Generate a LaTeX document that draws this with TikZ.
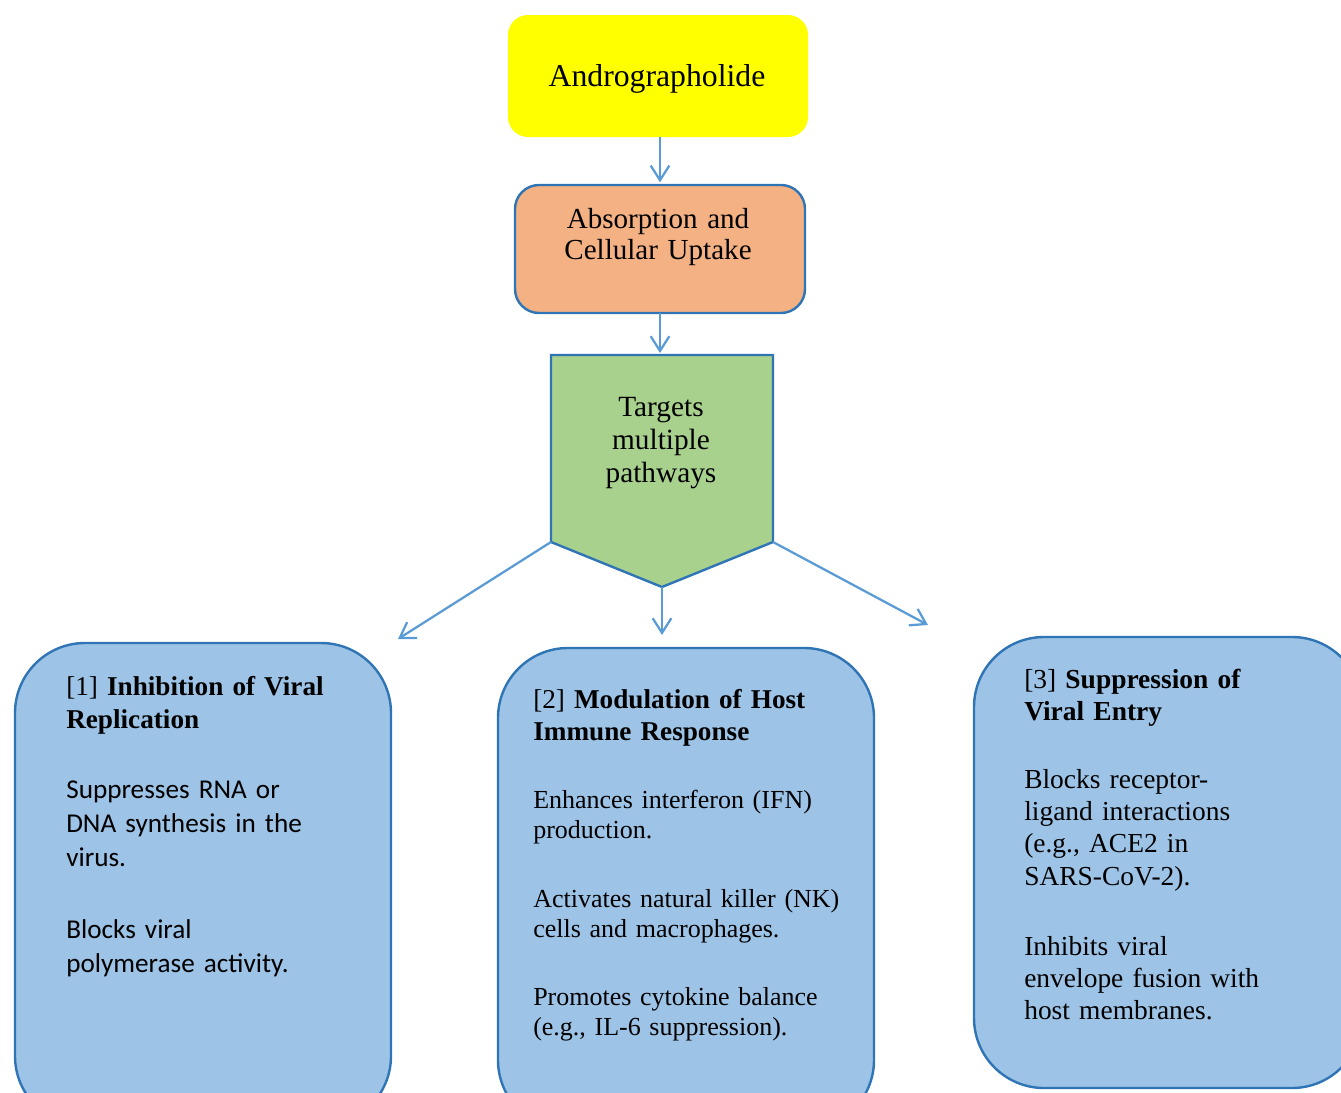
\documentclass[tikz,border=0pt]{standalone}
\usepackage{fontspec}
\setmainfont{Liberation Serif}
\newfontfamily\carlito{Carlito}
\usetikzlibrary{arrows.meta}
\definecolor{yel}{HTML}{FFFF00}
\definecolor{orng}{HTML}{F4B183}
\definecolor{grn}{HTML}{A9D18E}
\definecolor{bluefill}{HTML}{9DC3E6}
\definecolor{blueedge}{HTML}{2F75B5}
\definecolor{arrowblue}{HTML}{5B9BD5}
\tikzset{
  arr/.style={draw=arrowblue, line width=1.7pt, -{Straight Barb[length=11pt,width=14pt,line width=1.7pt]}},
  boxbase/.style={anchor=north west, outer sep=0pt, inner sep=0pt, line width=1.8pt},
  bigbox/.style={boxbase, draw=blueedge, fill=bluefill, rounded corners=52.5pt, minimum width=282pt},
  txt/.style={inner sep=0pt, text width=300pt, align=left, anchor=base west},
  ctxt/.style={inner sep=0pt, text width=220pt, align=center, anchor=base},
}
\begin{document}
\begin{tikzpicture}[x=0.75pt,y=-0.75pt]
\useasboundingbox (0,0) rectangle (1341,1092);
\clip (0,0) rectangle (1341,1092);
% top boxes
\node[boxbase, fill=yel, rounded corners=15pt, minimum width=225pt, minimum height=91.5pt] (yelbox) at (508,15) {};
\node[boxbase, draw=blueedge, fill=orng, rounded corners=18pt, minimum width=217.5pt, minimum height=96pt] (orgbox) at (515,185) {};
% pentagon
\coordinate (pTL) at (551,355);
\coordinate (pTR) at (773,355);
\coordinate (pR) at (773,542);
\coordinate (pB) at (662,587);
\coordinate (pL) at (551,542);
\coordinate (pTop) at (660,355);
\draw[blueedge, fill=grn, line width=1.8pt, line join=miter] (pTL) -- (pTR) -- (pR) -- (pB) -- (pL) -- cycle;
% bottom boxes
\node[bigbox, minimum height=362.25pt] (box1) at (15,643) {};
\node[bigbox, minimum height=361.5pt] (box2) at (498,648) {};
\node[bigbox, minimum width=291pt, minimum height=338.25pt] (box3) at (974,637) {};
% arrows
\coordinate (aL) at (398,639);
\coordinate (aM) at (662,635);
\coordinate (aR) at (928,625);
\draw[arr, shorten >=2pt] (yelbox.south -| orgbox.north) -- (orgbox.north);
\draw[arr, shorten >=1.5pt] (orgbox.south) -- (pTop);
\draw[arr] (pL) -- (aL);
\draw[arr] (pB) -- (aM);
\draw[arr] (pR) -- (aR);
% top texts
\node[ctxt, font=\fontsize{23.8}{28}\selectfont] (tAndro) at (657,86) {Andrographolide};
\node[ctxt, font=\fontsize{21.8}{23.25}\selectfont] (tAbs) at (658,228) {Absorption and\\Cellular Uptake};
\node[ctxt, font=\fontsize{22}{24.75}\selectfont] (tTgt) at (661,416) {Targets\\multiple\\pathways};
% box 1
\node[txt, font=\fontsize{20.4}{24.75}\selectfont] (h1) at (66,695) {[1] \textbf{Inhibition of Viral}\\\textbf{Replication}};
\node[txt, font=\carlito\fontsize{20.4}{25.5}\selectfont] (b1a) at (66,798) {Suppresses RNA or\\DNA synthesis in the\\virus.};
\node[txt, font=\carlito\fontsize{20.4}{25.5}\selectfont] (b1b) at (66,938) {Blocks viral\\polymerase activity.};
% box 2
\node[txt, font=\fontsize{20.4}{24}\selectfont] (h2) at (533,708) {[2] \textbf{Modulation of Host}\\\textbf{Immune Response}};
\node[txt, font=\fontsize{19.5}{22.5}\selectfont] (b2a) at (533,808) {Enhances interferon (IFN)\\production.};
\node[txt, font=\fontsize{19.5}{22.5}\selectfont] (b2b) at (533,907) {Activates natural killer (NK)\\cells and macrophages.};
\node[txt, font=\fontsize{19.5}{22.5}\selectfont] (b2c) at (533,1005) {Promotes cytokine balance\\(e.g., IL-6 suppression).};
% box 3
\node[txt, font=\fontsize{20.6}{24}\selectfont] (h3) at (1024,688) {[3] \textbf{Suppression of}\\\textbf{Viral Entry}};
\node[txt, font=\fontsize{20.6}{24.25}\selectfont] (b3a) at (1024,788) {Blocks receptor-\\ligand interactions\\(e.g., ACE2 in\\SARS-CoV-2).};
\node[txt, font=\fontsize{20.6}{24.25}\selectfont] (b3b) at (1024,955) {Inhibits viral\\envelope fusion with\\host membranes.};
\end{tikzpicture}
\end{document}
